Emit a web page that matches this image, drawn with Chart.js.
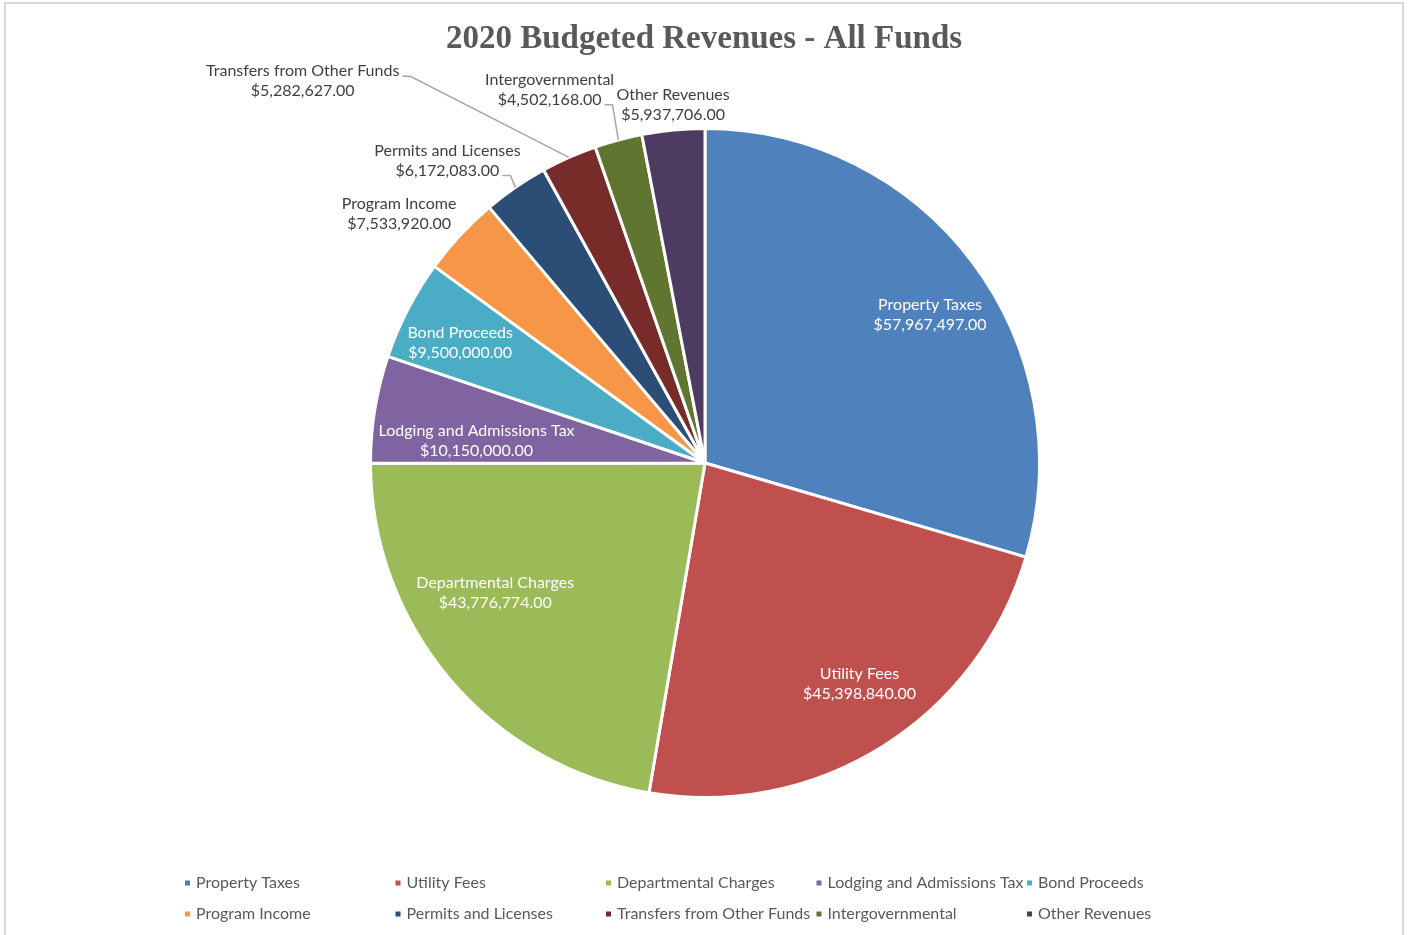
<!DOCTYPE html>
<html>
<head>
<meta charset="utf-8">
<script src="https://cdn.jsdelivr.net/npm/chart.js@4/dist/chart.umd.min.js"></script>
<style>
  html, body { margin: 0; padding: 0; background: #ffffff; }
  #wrap { position: relative; width: 1410px; height: 935px; }
</style>
</head>
<body>
<div id="wrap"><canvas id="c" width="1410" height="935"></canvas></div>
<script>
// Revenue categories and budgeted amounts (USD)
const categories = [
  'Property Taxes', 'Utility Fees', 'Departmental Charges', 'Lodging and Admissions Tax',
  'Bond Proceeds', 'Program Income', 'Permits and Licenses', 'Transfers from Other Funds',
  'Intergovernmental', 'Other Revenues'
];
const revenues = [
  57967497.00, 45398840.00, 43776774.00, 10150000.00,
  9500000.00, 7533920.00, 6172083.00, 5282627.00,
  4502168.00, 5937706.00
];
const sliceColors = [
  '#4F81BD', '#C0504D', '#9BBB59', '#8064A2', '#4BACC6',
  '#F79646', '#2C4D75', '#772C2A', '#5F7530', '#4D3B62'
];
const chartTitle = '2020 Budgeted Revenues - All Funds';

// Label placement in polar terms: angle (deg, clockwise from 12 o'clock),
// distance as a multiple of the pie radius, whether it sits inside the slice,
// and which text line (if any) a leader line leaves from.
const labelPlacement = [
  { angle: 56.7,  r: 0.805, inside: true },
  { angle: 145.0, r: 0.805, inside: true },
  { angle: 238.2, r: 0.738, inside: true },
  { angle: 275.5, r: 0.686, inside: true },
  { angle: 296.1, r: 0.815, inside: true },
  { angle: 309.2, r: 1.180, inside: false },
  { angle: 319.6, r: 1.188, inside: false, leader: 1 },
  { angle: 313.5, r: 1.658, inside: false, leader: 0 },
  { angle: 337.4, r: 1.209, inside: false, leader: 1 },
  { angle: 354.9, r: 1.074, inside: false }
];

const LABEL_FONT = '16px Lato, "Liberation Sans", sans-serif';
const LEGEND_FONT = '16px Lato, "Liberation Sans", sans-serif';

function money(v) {
  const parts = v.toFixed(2).split('.');
  parts[0] = parts[0].replace(/\B(?=(\d{3})+(?!\d))/g, ',');
  return '$' + parts.join('.');
}

const framePlugin = {
  id: 'frame',
  beforeDraw(chart) {
    const ctx = chart.ctx;
    ctx.save();
    ctx.fillStyle = '#ffffff';
    ctx.fillRect(0, 0, chart.width, chart.height);
    ctx.strokeStyle = '#d9d9d9';
    ctx.lineWidth = 2;
    ctx.strokeRect(5, 3, chart.width - 12, chart.height + 10);
    // title
    ctx.fillStyle = '#595959';
    ctx.font = 'bold 33px "Liberation Serif", "Times New Roman", serif';
    ctx.textAlign = 'center';
    ctx.textBaseline = 'middle';
    ctx.fillText(chartTitle, 704, 39);
    ctx.restore();
  }
};

const sliceLabelPlugin = {
  id: 'sliceLabels',
  afterDatasetsDraw(chart) {
    const ctx = chart.ctx;
    const meta = chart.getDatasetMeta(0);
    ctx.save();
    ctx.font = LABEL_FONT;
    ctx.textAlign = 'center';
    ctx.textBaseline = 'middle';
    meta.data.forEach((arc, i) => {
      const p = arc.getProps(['x', 'y', 'outerRadius', 'startAngle', 'endAngle'], true);
      const place = labelPlacement[i];
      const a = place.angle * Math.PI / 180;
      const cx = p.x + p.outerRadius * place.r * Math.sin(a);
      const cy = p.y - p.outerRadius * place.r * Math.cos(a);
      const lines = [categories[i], money(revenues[i])];
      const lineGap = 20;
      const y0 = cy - lineGap / 2;
      if (place.leader !== undefined) {
        const li = place.leader;
        const w = ctx.measureText(lines[li]).width;
        const sx = cx + w / 2 + 3;
        const sy = y0 + li * lineGap + 5;
        const mid = (p.startAngle + p.endAngle) / 2;
        const ex = p.x + p.outerRadius * Math.cos(mid);
        const ey = p.y + p.outerRadius * Math.sin(mid);
        ctx.strokeStyle = '#a6a6a6';
        ctx.lineWidth = 1.5;
        ctx.beginPath();
        ctx.moveTo(sx, sy);
        ctx.lineTo(sx + 8, sy);
        ctx.lineTo(ex, ey);
        ctx.stroke();
      }
      ctx.fillStyle = place.inside ? '#ffffff' : '#404040';
      lines.forEach((t, k) => ctx.fillText(t, cx, y0 + k * lineGap));
    });
    ctx.restore();
  }
};

const legendPlugin = {
  id: 'gridLegend',
  afterDraw(chart) {
    const ctx = chart.ctx;
    ctx.save();
    ctx.font = LEGEND_FONT;
    ctx.textAlign = 'left';
    ctx.textBaseline = 'middle';
    const cols = 5, x0 = 185, colW = 210.5, rowY = [883, 914];
    categories.forEach((name, i) => {
      const col = i % cols, row = Math.floor(i / cols);
      const x = x0 + col * colW, y = rowY[row];
      ctx.fillStyle = sliceColors[i];
      ctx.fillRect(x, y - 2.5, 5, 5);
      ctx.fillStyle = '#595959';
      ctx.fillText(name, x + 11, y);
    });
    ctx.restore();
  }
};

new Chart(document.getElementById('c'), {
  type: 'pie',
  data: {
    labels: categories,
    datasets: [{
      data: revenues,
      backgroundColor: sliceColors,
      borderColor: '#ffffff',
      borderWidth: 3
    }]
  },
  options: {
    responsive: false,
    animation: false,
    layout: { padding: { top: 127, bottom: 136, left: 0, right: 0 } },
    plugins: {
      legend: { display: false },
      tooltip: { enabled: false },
      title: { display: false }
    }
  },
  plugins: [framePlugin, sliceLabelPlugin, legendPlugin]
});
</script>
</body>
</html>
